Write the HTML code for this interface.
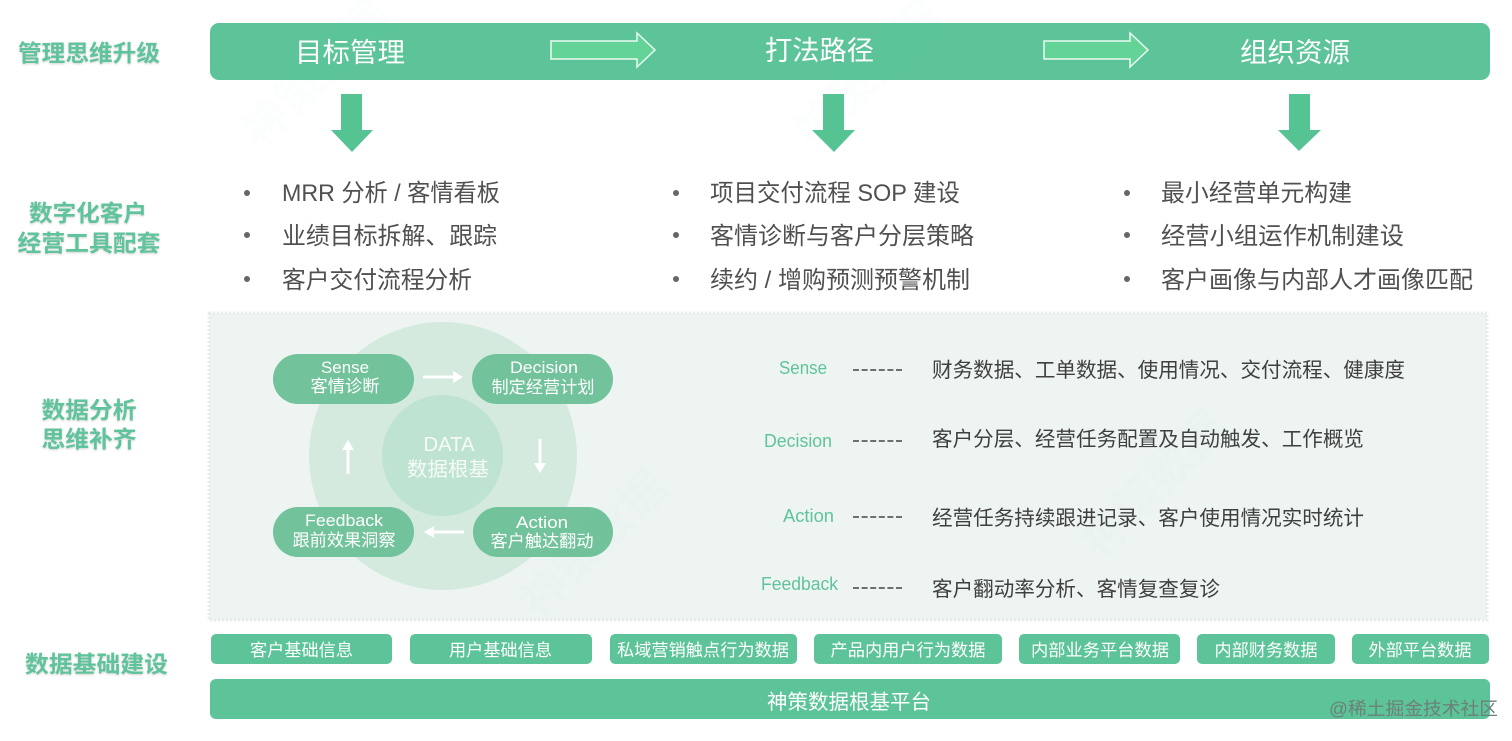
<!DOCTYPE html>
<html lang="zh">
<head>
<meta charset="utf-8">
<title>Diagram</title>
<style>
html,body{margin:0;padding:0;background:#fff;width:1512px;height:741px;overflow:hidden}
svg{display:block;filter:blur(.35px)}
text{font-family:"Liberation Sans","Noto Sans CJK SC",sans-serif}
.lab{fill:#5fc49b;font-size:23px;font-weight:700;text-anchor:middle;filter:drop-shadow(0 1px 1px rgba(0,0,0,.18))}
.hd{fill:#fff;font-size:27px;text-anchor:middle}
.bl{fill:#505050;font-size:24px}
.key{fill:#5fc49b;font-size:18px;text-anchor:middle}
.val{fill:#3f3f3f;font-size:20.5px}
.pt{fill:#fff;font-size:17px;text-anchor:middle}
.ct{fill:#fff;font-size:20px;text-anchor:middle;fill-opacity:.85}
.bt{fill:#fff;font-size:17px;text-anchor:middle}
</style>
</head>
<body>
<svg width="1512" height="741" viewBox="0 0 1512 741" xmlns="http://www.w3.org/2000/svg">
<rect width="1512" height="741" fill="#fff"/>

<!-- left labels -->
<text class="lab" x="89" y="61" textLength="142" lengthAdjust="spacingAndGlyphs">管理思维升级</text>
<text class="lab" x="88" y="221" textLength="118" lengthAdjust="spacingAndGlyphs">数字化客户</text>
<text class="lab" x="89" y="251" textLength="143" lengthAdjust="spacingAndGlyphs">经营工具配套</text>
<text class="lab" x="89" y="418" textLength="95" lengthAdjust="spacingAndGlyphs">数据分析</text>
<text class="lab" x="89" y="447" textLength="95" lengthAdjust="spacingAndGlyphs">思维补齐</text>
<text class="lab" x="96.500" y="672" textLength="143" lengthAdjust="spacingAndGlyphs">数据基础建设</text>

<!-- header bar -->
<rect x="210" y="23" width="1280" height="57" rx="9" fill="#5cc498"/>
<text class="hd" x="350" y="62" textLength="110" lengthAdjust="spacingAndGlyphs">目标管理</text>
<text class="hd" x="819.500" y="60" textLength="109" lengthAdjust="spacingAndGlyphs">打法路径</text>
<text class="hd" x="1295" y="62" textLength="110" lengthAdjust="spacingAndGlyphs">组织资源</text>
<polygon points="551,41 637,41 637,33 655,50 637,67 637,59 551,59" fill="#63d397" stroke="#eafaf2" stroke-width="1.500"/>
<polygon points="1044,41 1130,41 1130,33 1148,50 1130,67 1130,59 1044,59" fill="#63d397" stroke="#eafaf2" stroke-width="1.500"/>

<!-- down arrows -->
<polygon points="341,94 362,94 362,130 373,130 352,152 331,130 341,130" fill="#56c393"/>
<polygon points="823,94 844,94 844,130 855,130 834,152 812,130 823,130" fill="#56c393"/>
<polygon points="1289,94 1310,94 1310,130 1321,130 1299,151 1278,130 1289,130" fill="#56c393"/>

<!-- bullets -->
<g fill="#666">
<circle cx="247" cy="193" r="3"/><circle cx="247" cy="235" r="3"/><circle cx="247" cy="279" r="3"/>
<circle cx="676" cy="193" r="3"/><circle cx="676" cy="235" r="3"/><circle cx="676" cy="279" r="3"/>
<circle cx="1127" cy="193" r="3"/><circle cx="1127" cy="235" r="3"/><circle cx="1127" cy="279" r="3"/>
</g>
<text class="bl" x="282" y="201" textLength="218" lengthAdjust="spacingAndGlyphs">MRR 分析 / 客情看板</text>
<text class="bl" x="282" y="244" textLength="215" lengthAdjust="spacingAndGlyphs">业绩目标拆解、跟踪</text>
<text class="bl" x="282" y="288" textLength="190" lengthAdjust="spacingAndGlyphs">客户交付流程分析</text>
<text class="bl" x="710" y="201" textLength="250" lengthAdjust="spacingAndGlyphs">项目交付流程 SOP 建设</text>
<text class="bl" x="710" y="244" textLength="264" lengthAdjust="spacingAndGlyphs">客情诊断与客户分层策略</text>
<text class="bl" x="710" y="288" textLength="260" lengthAdjust="spacingAndGlyphs">续约 / 增购预测预警机制</text>
<text class="bl" x="1161" y="201" textLength="191" lengthAdjust="spacingAndGlyphs">最小经营单元构建</text>
<text class="bl" x="1161" y="244" textLength="243" lengthAdjust="spacingAndGlyphs">经营小组运作机制建设</text>
<text class="bl" x="1161" y="288" textLength="312" lengthAdjust="spacingAndGlyphs">客户画像与内部人才画像匹配</text>

<!-- panel -->
<rect x="209" y="313" width="1278" height="307" fill="#eef4f1" stroke="#e6ece9" stroke-width="3" stroke-dasharray="2 2"/>
<circle cx="443" cy="456" r="134" fill="#d4eadf"/>
<circle cx="442.500" cy="455.500" r="60.500" fill="#bfe3d1"/>

<rect x="273" y="354" width="141" height="50" rx="25" fill="#72c29b"/>
<rect x="472" y="354" width="141" height="50" rx="25" fill="#72c29b"/>
<rect x="273" y="507" width="141" height="50" rx="25" fill="#72c29b"/>
<rect x="473" y="507" width="140" height="50" rx="25" fill="#72c29b"/>

<text class="pt" x="345" y="373" textLength="48" lengthAdjust="spacingAndGlyphs">Sense</text>
<text class="pt" x="345" y="392" textLength="69" lengthAdjust="spacingAndGlyphs">客情诊断</text>
<text class="pt" x="544" y="373" textLength="68" lengthAdjust="spacingAndGlyphs">Decision</text>
<text class="pt" x="543" y="393" textLength="103" lengthAdjust="spacingAndGlyphs">制定经营计划</text>
<text class="pt" x="344" y="526" textLength="78" lengthAdjust="spacingAndGlyphs">Feedback</text>
<text class="pt" x="344" y="546" textLength="103" lengthAdjust="spacingAndGlyphs">跟前效果洞察</text>
<text class="pt" x="542" y="528" textLength="52" lengthAdjust="spacingAndGlyphs">Action</text>
<text class="pt" x="542" y="547" textLength="103" lengthAdjust="spacingAndGlyphs">客户触达翻动</text>
<text class="ct" x="449" y="451" textLength="51" lengthAdjust="spacingAndGlyphs">DATA</text>
<text class="ct" x="448" y="476" textLength="82" lengthAdjust="spacingAndGlyphs">数据根基</text>

<!-- cycle arrows -->
<g fill="#fff">
<polygon points="423,375.500 453,375.500 453,371 463,377 453,383 453,378.500 423,378.500"/>
<polygon points="538.500,439 541.500,439 541.500,463 546,463 540,473 534,463 538.500,463"/>
<polygon points="464,530.500 434,530.500 434,526 424,532 434,538 434,533.500 464,533.500"/>
<polygon points="346.500,474 349.500,474 349.500,450 354,450 348,440 342,450 346.500,450"/>
</g>

<!-- right list -->
<text class="key" x="803" y="374" textLength="48" lengthAdjust="spacingAndGlyphs">Sense</text>
<text class="key" x="798" y="447" textLength="68" lengthAdjust="spacingAndGlyphs">Decision</text>
<text class="key" x="808.500" y="522" textLength="51" lengthAdjust="spacingAndGlyphs">Action</text>
<text class="key" x="799.500" y="590" textLength="77" lengthAdjust="spacingAndGlyphs">Feedback</text>
<g stroke="#444" stroke-width="1.500" stroke-dasharray="6 2.600">
<line x1="853" y1="370" x2="903" y2="370"/>
<line x1="853" y1="441" x2="903" y2="441"/>
<line x1="853" y1="517" x2="903" y2="517"/>
<line x1="853" y1="588" x2="903" y2="588"/>
</g>
<text class="val" x="932" y="377" textLength="473" lengthAdjust="spacingAndGlyphs">财务数据、工单数据、使用情况、交付流程、健康度</text>
<text class="val" x="932" y="446" textLength="432" lengthAdjust="spacingAndGlyphs">客户分层、经营任务配置及自动触发、工作概览</text>
<text class="val" x="932" y="525" textLength="432" lengthAdjust="spacingAndGlyphs">经营任务持续跟进记录、客户使用情况实时统计</text>
<text class="val" x="932" y="596" textLength="288" lengthAdjust="spacingAndGlyphs">客户翻动率分析、客情复查复诊</text>

<!-- bottom pills -->
<g fill="#5cc498">
<rect x="211" y="634" width="181" height="30" rx="5"/>
<rect x="410" y="634" width="182" height="30" rx="5"/>
<rect x="610" y="634" width="187" height="30" rx="5"/>
<rect x="814" y="634" width="188" height="30" rx="5"/>
<rect x="1019" y="634" width="161" height="30" rx="5"/>
<rect x="1197" y="634" width="138" height="30" rx="5"/>
<rect x="1352" y="634" width="137" height="30" rx="5"/>
</g>
<text class="bt" x="301.500" y="656" textLength="103" lengthAdjust="spacingAndGlyphs">客户基础信息</text>
<text class="bt" x="500.500" y="656" textLength="103" lengthAdjust="spacingAndGlyphs">用户基础信息</text>
<text class="bt" x="703" y="656" textLength="172" lengthAdjust="spacingAndGlyphs">私域营销触点行为数据</text>
<text class="bt" x="908" y="656" textLength="155" lengthAdjust="spacingAndGlyphs">产品内用户行为数据</text>
<text class="bt" x="1100" y="656" textLength="138" lengthAdjust="spacingAndGlyphs">内部业务平台数据</text>
<text class="bt" x="1266" y="656" textLength="103" lengthAdjust="spacingAndGlyphs">内部财务数据</text>
<text class="bt" x="1420" y="656" textLength="103" lengthAdjust="spacingAndGlyphs">外部平台数据</text>

<rect x="210" y="679" width="1280" height="40" rx="6" fill="#5cc498"/>
<text x="849" y="709" fill="#fff" font-size="20.500" text-anchor="middle" textLength="164" lengthAdjust="spacingAndGlyphs">神策数据根基平台</text>

<!-- faint watermarks -->
<g fill="#5cc498" fill-opacity=".022" font-size="46" font-weight="700">
<text transform="translate(262,150) rotate(-45)">神策数据</text>
<text transform="translate(815,150) rotate(-45)">神策数据</text>
<text transform="translate(540,620) rotate(-45)">神策数据</text>
<text transform="translate(1100,560) rotate(-45)">神策数据</text>
</g>

<!-- corner mark -->
<text x="1329" y="715" fill="#6d8079" font-size="18" textLength="169" lengthAdjust="spacingAndGlyphs">@稀土掘金技术社区</text>
</svg>
</body>
</html>
